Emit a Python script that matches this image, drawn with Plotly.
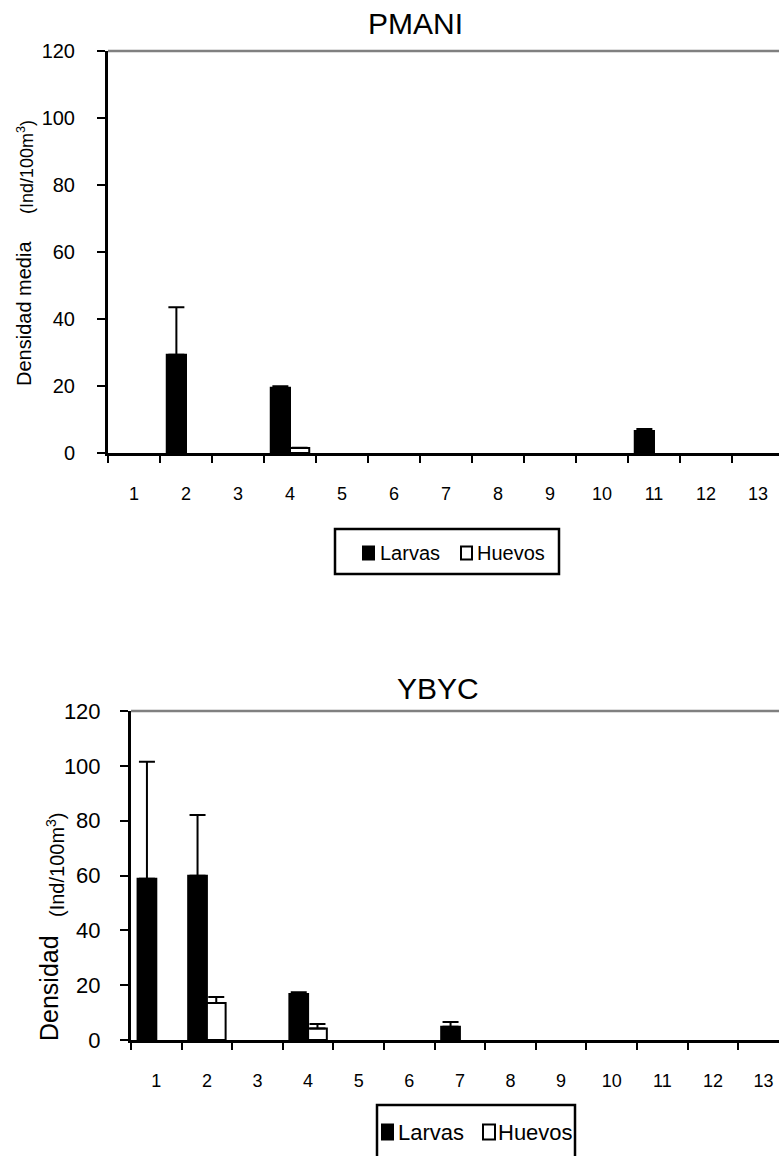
import plotly.graph_objects as go

W, H = 779, 1156
FONT = "Liberation Sans, Arial, sans-serif"

stations = ["1", "2", "3", "4", "5", "6", "7", "8", "9", "10", "11", "12", "13"]

pmani_larvas = [0, 29.3, 0, 19.5, 0, 0, 0, 0, 0, 0, 6.6, 0, 0]
pmani_larvas_err = [0, 14.2, 0, 0.4, 0, 0, 0, 0, 0, 0, 0.6, 0, 0]
pmani_huevos = [0, 0, 0, 1.5, 0, 0, 0, 0, 0, 0, 0, 0, 0]
pmani_huevos_err = [0, 0, 0, 0.1, 0, 0, 0, 0, 0, 0, 0, 0, 0]

ybyc_larvas = [58.8, 59.9, 0, 16.8, 0, 0, 4.8, 0, 0, 0, 0, 0, 0]
ybyc_larvas_err = [42.7, 22.2, 0, 0.6, 0, 0, 1.8, 0, 0, 0, 0, 0, 0]
ybyc_huevos = [0, 13.5, 0, 4.2, 0, 0, 0, 0, 0, 0, 0, 0, 0]
ybyc_huevos_err = [0, 2.2, 0, 1.6, 0, 0, 0, 0, 0, 0, 0, 0, 0]

series_names = ["Larvas", "Huevos"]
series_fill = ["black", "white"]
y_ticks = [0, 20, 40, 60, 80, 100, 120]


def px_x(p):
    return p / W


def px_y(p):
    return 1 - p / H


def shown(vals):
    # zero means "no bar drawn" in the reference
    return [v if v > 0 else None for v in vals]


def err(arr):
    return dict(type="data", array=arr, arrayminus=[0 for _ in arr], symmetric=False,
                color="black", thickness=2, width=8)


fig = go.Figure()
panels = [
    ("x", "y", [pmani_larvas, pmani_huevos], [pmani_larvas_err, pmani_huevos_err]),
    ("x2", "y2", [ybyc_larvas, ybyc_huevos], [ybyc_larvas_err, ybyc_huevos_err]),
]
for xa, ya, vals, errs in panels:
    for name, fill, v, e in zip(series_names, series_fill, vals, errs):
        fig.add_trace(go.Bar(x=stations, y=shown(v), name=name, xaxis=xa, yaxis=ya,
                             marker=dict(color=fill, line=dict(color="black", width=2)),
                             error_y=err(e), showlegend=False))

xax = dict(type="category", tickson="boundaries", ticks="outside", ticklen=7, tickwidth=2,
           tickcolor="black", showline=True, linecolor="black", linewidth=3,
           showgrid=False, zeroline=False, ticklabelstandoff=22,
           tickfont=dict(family=FONT, size=18, color="black"))
yax = dict(range=[0, 120], tickmode="array", tickvals=y_ticks, ticks="outside", ticklen=8,
           tickwidth=2, tickcolor="black", showline=True, linecolor="black", linewidth=3,
           showgrid=False, zeroline=False)

fig.update_layout(
    width=W, height=H, margin=dict(l=0, r=0, t=0, b=0, autoexpand=False),
    paper_bgcolor="white", plot_bgcolor="white",
    barmode="group", bargap=0.26, bargroupgap=0,
    font=dict(family=FONT, color="black"),
    xaxis=dict(xax, domain=[px_x(108), 1], range=[-0.5, 12.404], anchor="y"),
    yaxis=dict(yax, domain=[px_y(453), px_y(51)], anchor="x", ticklabelstandoff=18,
               tickfont=dict(family=FONT, size=20, color="black")),
    xaxis2=dict(xax, domain=[px_x(131), 1], range=[-0.5, 12.306], anchor="y2"),
    yaxis2=dict(yax, domain=[px_y(1040), px_y(711)], anchor="x2", ticklabelstandoff=15,
                tickfont=dict(family=FONT, size=22, color="black")),
    showlegend=False,
)

shapes = [
    dict(type="line", xref="x domain", yref="y domain", x0=0, x1=1, y0=1, y1=1,
         line=dict(color="#808080", width=2.5)),
    dict(type="line", xref="x2 domain", yref="y2 domain", x0=0, x1=1, y0=1, y1=1,
         line=dict(color="#808080", width=2.5)),
    # legend frames
    dict(type="rect", xref="paper", yref="paper", x0=px_x(335), x1=px_x(559),
         y0=px_y(574), y1=px_y(529), line=dict(color="black", width=2.5)),
    dict(type="rect", xref="paper", yref="paper", x0=px_x(377), x1=px_x(575),
         y0=px_y(1162), y1=px_y(1105), line=dict(color="black", width=2.5)),
]


def ann(text, x, y, size, angle=0, xanchor="center"):
    return dict(text=text, x=px_x(x), y=px_y(y), xref="paper", yref="paper",
                xanchor=xanchor, yanchor="middle", textangle=angle, showarrow=False,
                font=dict(family=FONT, size=size, color="black"))


annotations = [
    ann("PMANI", 415, 23, 30),
    ann("YBYC", 438, 688, 30),
    ann("Densidad media", 24, 314, 20, -90),
    ann("(Ind/100m<sup>3</sup>)", 25, 167, 18, -90),
    ann("Densidad", 49, 988, 25, -90),
    ann("(Ind/100m<sup>3</sup>)", 55, 864, 20, -90),
]

# legend entries (swatch + label) for each panel
legend_specs = [
    # (swatch x0, swatch x1, y center, swatch half-height, label x list, font size)
    ([(363, 374), (461, 472)], 553, 6.5, [378, 475], 20),
    ([(382, 393), (483, 495)], 1132, 7.5, [396, 496], 22),
]
for swatches, yc, hh, label_x, fsize in legend_specs:
    for (sx0, sx1), lx, name, fill in zip(swatches, label_x, series_names, series_fill):
        shapes.append(dict(type="rect", xref="paper", yref="paper",
                           x0=px_x(sx0), x1=px_x(sx1), y0=px_y(yc + hh), y1=px_y(yc - hh),
                           fillcolor=fill, line=dict(color="black", width=2)))
        annotations.append(ann(name, lx, yc, fsize, xanchor="left"))

fig.update_layout(shapes=shapes, annotations=annotations)

fig.write_html("out.html")
